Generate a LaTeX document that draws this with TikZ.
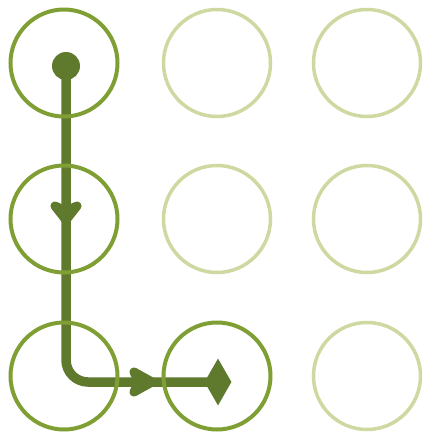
\documentclass[tikz,border=0pt]{standalone}
\usetikzlibrary{shapes.geometric,backgrounds}
\definecolor{pathgreen}{HTML}{5F7A2C}
\definecolor{activegreen}{HTML}{7F9F35}
\definecolor{idlegreen}{HTML}{CDD9A0}
\tikzset{
  dotcircle/.style={circle, minimum size=107pt, inner sep=0pt, line width=4pt},
  activedot/.style={dotcircle, draw=activegreen},
  idledot/.style={dotcircle, draw=idlegreen, line width=3.5pt},
  trail/.style={draw=pathgreen, line width=9.5pt, rounded corners=22pt},
  chevron/.style={draw=pathgreen, fill=pathgreen, line width=9pt, line cap=round, line join=round},
}
\begin{document}
\begin{tikzpicture}[x=1pt,y=-1pt]
\useasboundingbox (0,0) rectangle (426,432);
% grid of circles
\node[activedot] (c11) at (64,63) {};
\node[idledot]   (c12) at (217,63) {};
\node[idledot]   (c13) at (367,63) {};
\node[activedot] (c21) at (64,219) {};
\node[idledot]   (c22) at (217,219) {};
\node[idledot]   (c23) at (367,219) {};
\node[activedot] (c31) at (64,376) {};
\node[activedot] (c32) at (217,376) {};
\node[idledot]   (c33) at (367,376) {};
% start dot and end diamond
\node[circle, fill=pathgreen, minimum size=28pt, inner sep=0pt] (start) at (66,66) {};
\node[diamond, fill=pathgreen, minimum width=27pt, minimum height=47pt, inner sep=0pt] (stop) at (218,382) {};
% the trail
\begin{scope}[on background layer]
\path[trail] (start.center) |- (stop.center);
\end{scope}
% direction arrows (rounded stealth heads)
\coordinate (v1) at (55,206);
\coordinate (vt) at (66,220);
\coordinate (v2) at (77,206);
\coordinate (vn) at (66,211);
\coordinate (h1) at (134,372);
\coordinate (ht) at (152,382);
\coordinate (h2) at (134,392);
\coordinate (hn) at (139,382);
\draw[chevron] (v1) -- (vt) -- (v2) -- (vn) -- cycle;
\draw[chevron] (h1) -- (ht) -- (h2) -- (hn) -- cycle;
\end{tikzpicture}
\end{document}
